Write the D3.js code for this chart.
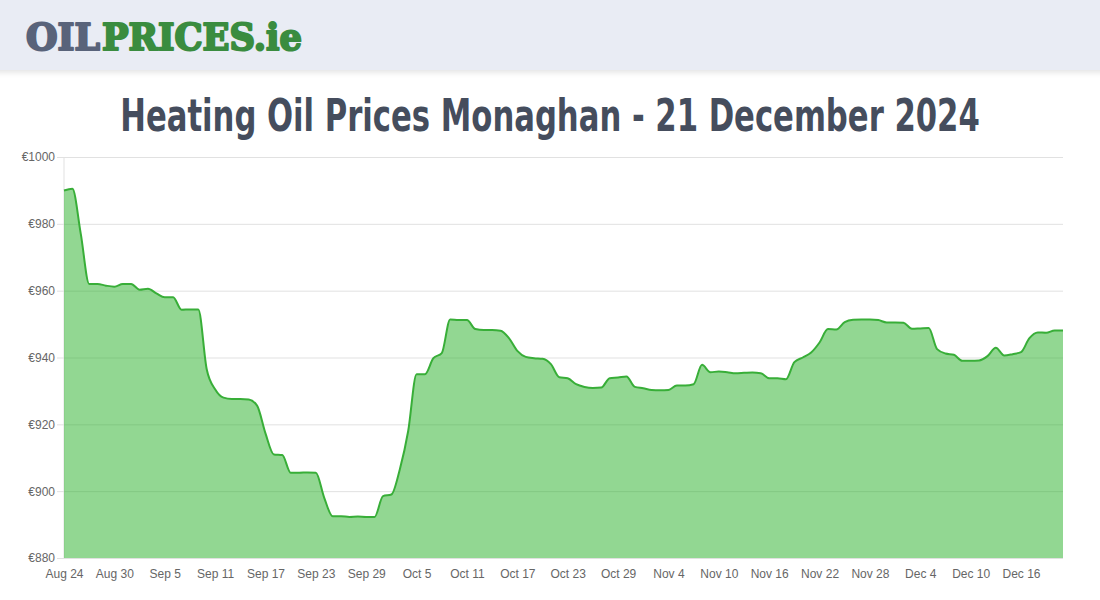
<!DOCTYPE html>
<html>
<head>
<meta charset="UTF-8">
<title>Heating Oil Prices Monaghan</title>
<script src="https://cdnjs.cloudflare.com/ajax/libs/d3/7.8.5/d3.min.js"></script>
<style>
  body { margin: 0; background: #fff; font-family: "Liberation Sans", Arial, sans-serif; }
  #chart { width: 1100px; height: 600px; }
</style>
</head>
<body>
<div id="chart"></div>
<script>
// daily prices, Aug 24 -> Dec 21 2024
var startDate = new Date(2024, 7, 24);
var prices = [
  990, 990.5, 977, 962, 962, 961.5, 961.2, 962, 962, 960.3,
  960.6, 959.2, 958, 958, 954.3, 954.4, 954.4, 936.5, 930.5, 928,
  927.6, 927.6, 927.4, 925.6, 917.3, 911, 910.8, 905.5, 905.5, 905.6,
  905.5, 898, 892.5, 892.5, 892.3, 892.4, 892.3, 892.3, 898.5, 899,
  906.5, 918, 935, 935, 939.8, 941.3, 951.4, 951.2, 951.2, 948.5,
  948.2, 948.2, 948, 945.8, 942, 940.2, 939.8, 939.6, 938, 934.1,
  933.8, 932, 931.2, 930.9, 931, 933.8, 934, 934.3, 931.2, 930.8,
  930.3, 930.2, 930.3, 931.6, 931.6, 932, 937.8, 935.6, 935.8, 935.6,
  935.3, 935.4, 935.5, 935.3, 933.8, 933.8, 933.5, 938.6, 940, 941.5,
  944.5, 948.5, 948.4, 950.6, 951.3, 951.4, 951.4, 951.2, 950.5, 950.5,
  950.4, 948.6, 948.7, 948.8, 942.5, 941.2, 940.8, 939, 939, 939.1,
  940.4, 942.9, 940.6, 941, 941.6, 945.8, 947.5, 947.4, 948.1, 948.1
];
var yTicks = [880, 900, 920, 940, 960, 980, 1000];
var xTickLabels = ["Aug 24", "Aug 30", "Sep 5", "Sep 11", "Sep 17", "Sep 23", "Sep 29",
  "Oct 5", "Oct 11", "Oct 17", "Oct 23", "Oct 29", "Nov 4", "Nov 10", "Nov 16",
  "Nov 22", "Nov 28", "Dec 4", "Dec 10", "Dec 16"];

var dates = prices.map(function(p, i) { return d3.timeDay.offset(startDate, i); });
var data = prices.map(function(p, i) { return { date: dates[i], price: p }; });
var fmt = d3.timeFormat("%b %-d");
var tickDates = dates.filter(function(d) { return xTickLabels.indexOf(fmt(d)) >= 0; });

var W = 1100, H = 600;
var margin = { top: 157, right: 37, bottom: 42, left: 64 };

var svg = d3.select("#chart").append("svg")
    .attr("width", W)
    .attr("height", H);

// header bar
var defs = svg.append("defs");
var sh = defs.append("filter").attr("id", "shadow").attr("x", "-5%").attr("y", "-20%")
    .attr("width", "110%").attr("height", "150%");
sh.append("feDropShadow").attr("dx", 0).attr("dy", 2).attr("stdDeviation", 3)
    .attr("flood-color", "#000").attr("flood-opacity", 0.12);
svg.append("rect")
    .attr("x", -10).attr("y", 0).attr("width", W + 20).attr("height", 70)
    .attr("fill", "#e9ecf4")
    .attr("filter", "url(#shadow)");

// squeeze a text horizontally to a target width
function fitWidth(sel, cx, cy, target) {
    var w = sel.node().getComputedTextLength();
    sel.attr("transform", "translate(" + cx + "," + cy + ") scale(" + (target / w) + ",1)");
}

// logo (heavy slab look: bold serif + same-colour stroke)
var oil = svg.append("text")
    .attr("font-family", "'DejaVu Serif', serif")
    .attr("font-weight", "bold")
    .attr("font-size", 37)
    .attr("fill", "#59637a")
    .attr("stroke", "#59637a").attr("stroke-width", 2.2).attr("stroke-linejoin", "round")
    .text("OIL");
fitWidth(oil, 26, 50, 74);
var prc = svg.append("text")
    .attr("font-family", "'DejaVu Serif', serif")
    .attr("font-weight", "bold")
    .attr("font-size", 37)
    .attr("fill", "#3a8c3f")
    .attr("stroke", "#3a8c3f").attr("stroke-width", 2.2).attr("stroke-linejoin", "round")
    .text("PRICES.ie");
fitWidth(prc, 102, 50, 200);

// title
var title = svg.append("text")
    .attr("text-anchor", "middle")
    .attr("font-family", "'DejaVu Sans Condensed', 'Liberation Sans Narrow', sans-serif")
    .attr("font-weight", "bold")
    .attr("font-size", 45)
    .attr("fill", "#454d5d")
    .text("Heating Oil Prices Monaghan - 21 December 2024");
fitWidth(title, 550, 131, 860);

var x = d3.scaleTime()
    .domain([dates[0], dates[dates.length - 1]])
    .range([margin.left, W - margin.right]);
var y = d3.scaleLinear()
    .domain([880, 1000])
    .range([H - margin.bottom, margin.top]);

// y grid + axis
var yAxis = svg.append("g")
    .attr("transform", "translate(" + margin.left + ",0)")
    .call(d3.axisLeft(y).tickValues(yTicks)
        .tickSize(-(W - margin.right - margin.left))
        .tickPadding(10)
        .tickFormat(function(d) { return "€" + d; }));
yAxis.select(".domain").remove();
yAxis.selectAll(".tick line")
    .attr("x1", -7)
    .attr("stroke", "#e1e1e1");
yAxis.selectAll(".tick text")
    .attr("x", -9)
    .attr("fill", "#666")
    .attr("font-size", 12)
    .attr("font-family", "'Liberation Sans', Arial, sans-serif");

svg.append("line")
    .attr("x1", margin.left).attr("x2", margin.left)
    .attr("y1", margin.top).attr("y2", H - margin.bottom)
    .attr("stroke", "#e1e1e1");

// x axis
var xAxis = svg.append("g")
    .attr("transform", "translate(0," + (H - margin.bottom) + ")")
    .call(d3.axisBottom(x).tickValues(tickDates).tickSize(0).tickPadding(11)
        .tickFormat(fmt));
xAxis.select(".domain").remove();
xAxis.selectAll(".tick text")
    .attr("fill", "#666")
    .attr("font-size", 12)
    .attr("font-family", "'Liberation Sans', Arial, sans-serif");

// area + line
var area = d3.area()
    .x(function(d) { return x(d.date); })
    .y0(y(880))
    .y1(function(d) { return y(d.price); })
    .curve(d3.curveMonotoneX);
var line = d3.line()
    .x(function(d) { return x(d.date); })
    .y(function(d) { return y(d.price); })
    .curve(d3.curveMonotoneX);

svg.append("path")
    .datum(data)
    .attr("d", area)
    .attr("fill", "rgba(37,176,37,0.5)");
svg.append("path")
    .datum(data)
    .attr("d", line)
    .attr("fill", "none")
    .attr("stroke", "#38ae38")
    .attr("stroke-width", 2);
</script>
</body>
</html>
